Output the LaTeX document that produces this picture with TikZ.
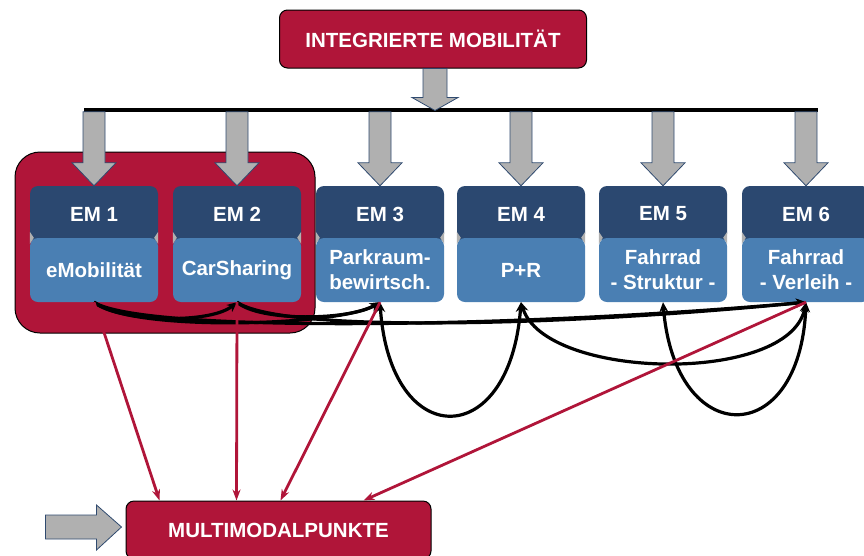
\documentclass[tikz,border=0pt]{standalone}
\usepackage{fontspec}
\setmainfont{Liberation Sans}
\usetikzlibrary{arrows.meta,calc}
\definecolor{emred}{HTML}{B01539}
\definecolor{emdark}{HTML}{2B4870}
\definecolor{emlight}{HTML}{4A7FB3}
\definecolor{emgray}{HTML}{B0B0B0}
\definecolor{emline}{HTML}{2F4A6F}
\tikzset{
  txt/.style={text=white,font=\fontsize{20.5}{25}\selectfont\bfseries,align=center,inner sep=0pt},
  redbox/.style={txt,fill=emred,draw=black,line width=1pt,rounded corners=8pt},
  head/.style={txt,fill=emdark,rounded corners=8pt,minimum width=128pt,minimum height=56pt},
  body/.style={txt,fill=emlight,rounded corners=8pt,minimum width=128pt,minimum height=64pt},
  grayarrow/.style={fill=emgray,draw=emline,line width=0.8pt},
  link/.style={black,line width=3.2pt,-{Stealth[length=10pt,width=9pt]}},
  linkboth/.style={black,line width=3.2pt,{Stealth[length=10pt,width=9pt]}-{Stealth[length=10pt,width=9pt]}},
  mmlink/.style={emred,line width=2.8pt,-{Stealth[length=11pt,width=8pt]}}
}
\begin{document}
\begin{tikzpicture}[x=1pt,y=-1pt]
\useasboundingbox (0,0) rectangle (864,555);
% top and group
\node[redbox,minimum width=307pt,minimum height=58pt] (top) at (433,39) {INTEGRIERTE MOBILITÄT};
\node[fill=emred,draw=black,line width=1pt,rounded corners=25pt,minimum width=300pt,minimum height=181pt,inner sep=0pt] (grp) at (165,242.5) {};
% modules
\node[head] (em1) at (94,214) {EM 1};
\node[head] (em2) at (237,214) {EM 2};
\node[head] (em3) at (380,214) {EM 3};
\node[head] (em4) at (521,214) {EM 4};
\node[head] (em5) at (663,214) {EM 5};
\node[head] (em6) at (806,214) {EM 6};
\node[body] (b1) at (94,270) {eMobilität};
\node[body] (b2) at (237,270) {CarSharing};
\node[body] (b3) at (380,270) {Parkraum-\\bewirtsch.};
\node[body] (b4) at (521,270) {P+R};
\node[body] (b5) at (663,270) {Fahrrad\\- Struktur -};
\node[body] (b6) at (806,270) {Fahrrad\\- Verleih -};
\foreach \i in {1,...,6}{
  \fill[emgray] ($(b\i.north west)+(0,-6)$) -- ++(4,6) -- ++(-4,6) -- cycle;
  \fill[emgray] ($(b\i.north east)+(0,-6)$) -- ++(-4,6) -- ++(4,6) -- cycle;
}
% bar and block arrows
\coordinate (barl) at (84,110);
\coordinate (barr) at (818,110);
\draw[black,line width=3.5pt] (barl) -- (barr);
\draw[grayarrow] ($(top.south)+(2,42)$) ++(-12,-42) -- ++(24,0) -- ++(0,29) -- ++(11,0) -- ++(-23,13) -- ++(-23,-13) -- ++(11,0) -- cycle;
\foreach \i in {1,...,6}
  \draw[grayarrow] (em\i.north) ++(-11,-74) -- ++(22,0) -- ++(0,51) -- ++(11,0) -- ++(-22,23) -- ++(-22,-23) -- ++(11,0) -- cycle;
\node[redbox,minimum width=305pt,minimum height=58pt] (mmp) at (278.5,530) {MULTIMODALPUNKTE};
\draw[grayarrow] ($(mmp.west)+(-4,-3)$) ++(-76,-12) -- ++(51,0) -- ++(0,-10) -- ++(25,22) -- ++(-25,23) -- ++(0,-11) -- ++(-51,0) -- cycle;
% links between modules
\draw [link] (b1.south) .. controls +(26,20) and +(-27,22) .. (b2.south);
\draw [link] (b1.south) .. controls +(36,30) and +(-40,24) .. (b3.south);
\draw [link] (b2.south) .. controls +(23,20) and +(-30,18) .. (b3.south);
\draw [link] (b1.south) .. controls +(46,30) and +(-305,27) .. (b6.south);
\draw [link] (b2.south) .. controls +(43,30) and +(-255,25) .. (b6.south);
\draw [linkboth] (b3.south) .. controls +(10,150) and +(-11,150) .. (b4.south);
\draw [linkboth] (b4.south) .. controls +(24,78) and +(-16,83) .. (b6.south);
\draw [linkboth] (b5.south) .. controls +(12,148) and +(-6,148) .. (b6.south);
% links to multimodal points
\coordinate (m1) at ($(mmp.north west)+(34,0)$);
\coordinate (m2) at ($(mmp.north west)+(111,0)$);
\coordinate (m3) at ($(mmp.north west)+(155,0)$);
\coordinate (m4) at ($(mmp.north west)+(238,0)$);
\draw [mmlink] (b1.south) -- (m1);
\draw [mmlink] (b2.south) -- (m2);
\draw [mmlink] (b3.south) -- (m3);
\draw [mmlink] (b6.south) -- (m4);
\end{tikzpicture}
\end{document}
